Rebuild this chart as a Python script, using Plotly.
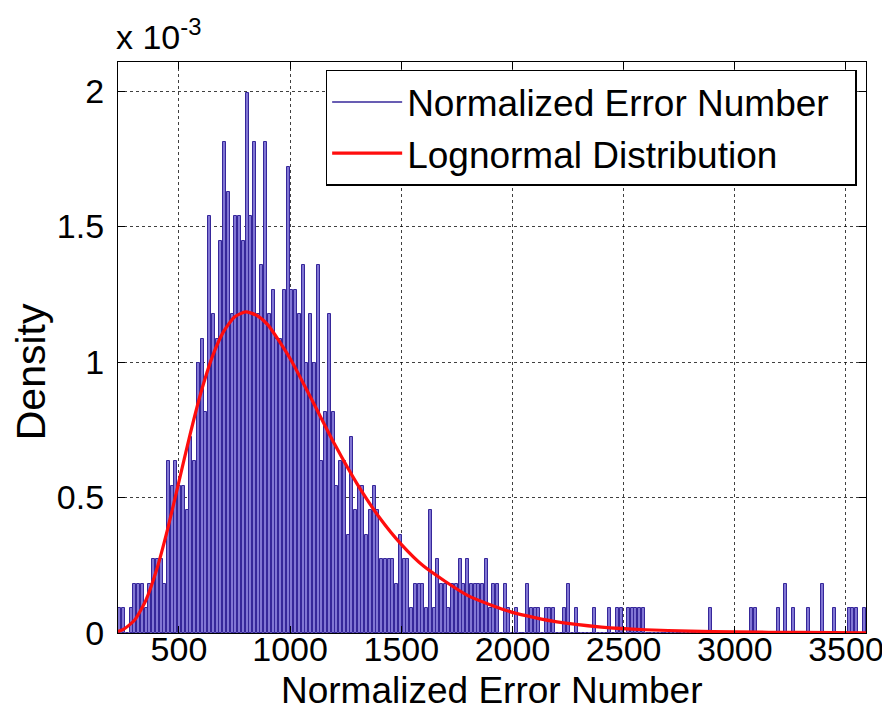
import numpy as np
import plotly.graph_objects as go

# ---------------- data ----------------
X_MIN, X_MAX, N_BINS = 226.0, 3590.0, 200
UNIT = 0.0905e-3

counts = [
    1, 1, 0, 1, 2, 2, 2, 1, 2, 3,      # 0-9
    3, 3, 2, 7, 6, 7, 6, 6, 5, 8,      # 10-19
    7, 11, 12, 9, 17, 13, 12, 16, 20, 18,  # 20-29
    13, 17, 17, 16, 22, 17, 20, 13, 15, 20,  # 30-39
    13, 14, 12, 12, 14, 19, 14, 14, 13, 15,  # 40-49
    11, 13, 11, 15, 7, 9, 13, 9, 6, 7,   # 50-59
    7, 4, 8, 5, 6, 6, 4, 5, 6, 5,       # 60-69
    3, 3, 3, 3, 2, 4, 3, 3, 1, 2,       # 70-79
    2, 2, 1, 5, 1, 3, 2, 2, 1, 2,       # 80-89
    2, 3, 2, 3, 2, 2, 2, 2, 3, 1,       # 90-99
    2, 2, 0, 2, 1, 0, 1, 0, 0, 2,       # 100-109
    1, 1, 1, 0, 1, 1, 1, 0, 0, 1,       # 110-119
    2, 0, 1, 0, 0, 0, 0, 1, 0, 0,       # 120-129
    0, 1, 0, 1, 1, 0, 1, 1, 1, 1,       # 130-139
    1, 0, 0, 0, 0, 0, 0, 0, 0, 0,       # 140-149
    0, 0, 0, 0, 0, 0, 0, 0, 1, 0,       # 150-159
    0, 0, 0, 0, 0, 0, 0, 0, 0, 1,       # 160-169
    1, 0, 0, 0, 0, 0, 1, 0, 2, 0,       # 170-179
    1, 0, 0, 0, 1, 0, 0, 0, 2, 0,       # 180-189
    0, 1, 0, 0, 0, 1, 1, 1, 0, 1,       # 190-199
]

# lognormal curve, points
curve_x = [226, 250, 300, 350, 400, 450, 500, 550, 600, 650, 700, 750, 800, 850,
           900, 1000, 1100, 1200, 1300, 1400, 1500, 1600, 1800, 2000, 2200, 2400,
           2600, 2800, 3000, 3300, 3590]
curve_y_e3 = [0.006, 0.013, 0.047, 0.118, 0.234, 0.386, 0.559, 0.732, 0.890, 1.019,
              1.111, 1.166, 1.185, 1.172, 1.137, 1.013, 0.857, 0.697, 0.552, 0.428,
              0.327, 0.247, 0.138, 0.076, 0.041, 0.022, 0.012, 0.007, 0.004, 0.002,
              0.001]

x_ticks = [500, 1000, 1500, 2000, 2500, 3000, 3500]
y_ticks = [0, 0.5e-3, 1.0e-3, 1.5e-3, 2.0e-3]
y_tick_text = ["0", "0.5", "1", "1.5", "2"]

# ---------------- figure ----------------
edges = np.linspace(X_MIN, X_MAX, N_BINS + 1)
centers = (edges[:-1] + edges[1:]) / 2
bin_w = edges[1] - edges[0]
density = np.array(counts) * UNIT

FONT = "Liberation Sans, Arial, sans-serif"
HIST_EDGE = "#36279a"
HIST_FILL = "#8176d4"

fig = go.Figure()
fig.add_trace(go.Bar(
    x=centers, y=density, width=bin_w * 0.8,
    marker=dict(color=HIST_FILL, line=dict(color=HIST_EDGE, width=1)),
    showlegend=False, name="Normalized Error Number",
))
fig.add_trace(go.Scatter(
    x=[None], y=[None], mode="lines", name="Normalized Error Number\u00a0\u00a0",
    line=dict(color=HIST_EDGE, width=1.5),
))
fig.add_trace(go.Scatter(
    x=curve_x, y=np.array(curve_y_e3) * 1e-3, mode="lines",
    line=dict(color="#ff0d0d", width=3.2, shape="spline", smoothing=0.6),
    name="Lognormal Distribution",
))

axis_common = dict(
    showline=True, linecolor="black", linewidth=1.2, mirror="ticks",
    ticks="inside", ticklen=7, tickcolor="black", tickwidth=1,
    showgrid=True, gridcolor="rgba(0,0,0,0.75)", gridwidth=1, griddash="dot",
    zeroline=False, tickfont=dict(family=FONT, size=34, color="black"),
)

fig.update_xaxes(
    range=[X_MIN, X_MAX], tickvals=x_ticks, ticktext=[str(v) for v in x_ticks],
    ticklabelstandoff=-14, ticklabeloverflow="allow",
    **axis_common,
)
fig.update_yaxes(
    range=[0, 2.107e-3], tickvals=y_ticks, ticktext=y_tick_text,
    ticklabelstandoff=6,
    **axis_common,
)

# axis titles and exponent label
fig.add_annotation(
    x=0.5, y=-0.10, xref="paper", yref="paper", xanchor="center", yanchor="middle",
    showarrow=False, text="Normalized Error Number",
    font=dict(family=FONT, size=37, color="black"),
)
fig.add_annotation(
    x=-0.116, y=0.457, xref="paper", yref="paper", xanchor="center", yanchor="middle",
    showarrow=False, text="Density", textangle=-90,
    font=dict(family=FONT, size=41, color="black"),
)
fig.add_annotation(
    x=0, y=1, xref="paper", yref="paper", xanchor="left", yanchor="bottom",
    xshift=-4, yshift=4, showarrow=False,
    text="x 10<sup>-3</sup>", font=dict(family=FONT, size=34, color="black"),
)

# the page adds an 8px body margin, so the figure is 8px smaller and margins shifted
fig.update_layout(
    width=882, height=712,
    margin=dict(l=110, r=24, t=54, b=87, autoexpand=False),
    paper_bgcolor="white", plot_bgcolor="white",
    bargap=0,
    legend=dict(
        x=0.9875, y=0.986, xanchor="right", yanchor="top",
        bgcolor="white", bordercolor="black", borderwidth=1.5,
        font=dict(family=FONT, size=37, color="black"),
        itemwidth=70, tracegroupgap=0,
    ),
)

fig.write_html("out.html")
